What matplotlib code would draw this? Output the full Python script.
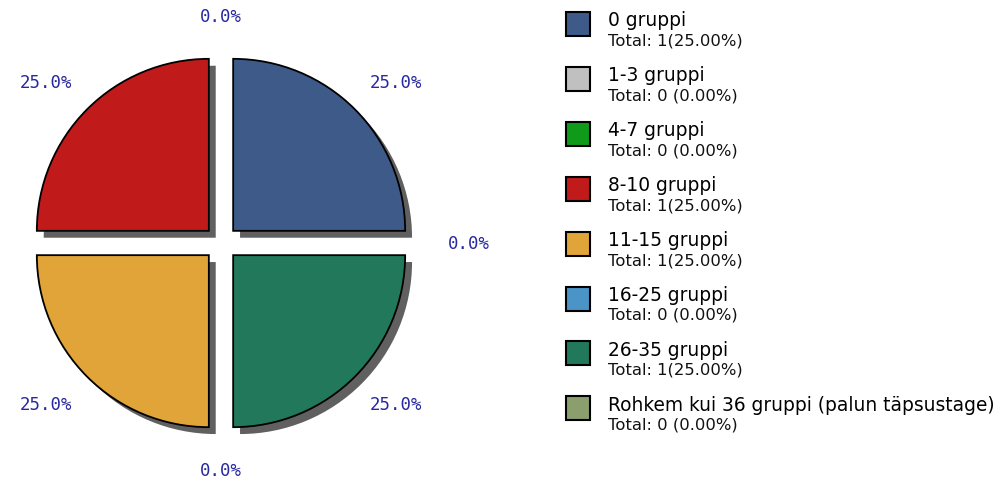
import numpy as np
import matplotlib
matplotlib.use('Agg')
import matplotlib.pyplot as plt
from matplotlib.patches import Rectangle

# categories and counts
categories = ['0 gruppi', '1-3 gruppi', '4-7 gruppi', '8-10 gruppi', '11-15 gruppi',
              '16-25 gruppi', '26-35 gruppi', 'Rohkem kui 36 gruppi (palun täpsustage)']
counts = [1, 0, 0, 1, 1, 0, 1, 0]
colors = ['#3d5a89', '#c0c0c0', '#109a1a', '#c01a1a', '#e0a438', '#4a94c8', '#22785a', '#8a9e6e']

W, H = 1000, 481
fig = plt.figure(figsize=(W / 100, H / 100), dpi=100)

# pie axes, 1 data unit = R pixels
R = 172.0
cx, cy = 221.0, 237.0
ax = fig.add_axes([0, 0, 0.5, 1])
explode = [0.1] * len(counts)
off = 0.04

# shadow
sh, _ = ax.pie(counts, explode=explode, colors=['#606060'] * len(counts), startangle=0,
               center=(off, -off), wedgeprops=dict(linewidth=0))
wedges, _ = ax.pie(counts, explode=explode, colors=colors, startangle=0,
                   wedgeprops=dict(edgecolor='black', linewidth=1.3))
for w, s, c in zip(wedges, sh, counts):
    if c == 0:
        w.set_visible(False)
        s.set_visible(False)
ax.set_xlim(-cx / R, (500 - cx) / R)
ax.set_ylim(-cy / R, (H - cy) / R)
ax.set_aspect('equal')
ax.axis('off')

# percentage labels (one per position)
total = sum(counts)
pct = [100.0 * c / total for c in counts]
mid = (np.cumsum(counts) - np.array(counts) / 2.0) / total * 2 * np.pi
seen = set()
for a, p in zip(mid, pct):
    key = round(a, 4)
    if key in seen:
        continue
    seen.add(key)
    ax.text(1.44 * np.cos(a), 1.32 * np.sin(a), '%.1f%%' % p, ha='center', va='center',
            family='DejaVu Sans Mono', fontsize=12.5, color='#2828a0')

# legend
y0 = 13
step = 54.9
for i, (cat, c, col) in enumerate(zip(categories, counts, colors)):
    top = y0 + i * step
    fig.patches.append(Rectangle((566 / W, 1 - (top + 24) / H), 24 / W, 24 / H,
                                 facecolor=col, edgecolor='black', linewidth=1.5,
                                 transform=fig.transFigure, figure=fig))
    fig.text(608 / W, 1 - (top + 8) / H, cat, ha='left', va='center',
             fontsize=13.4, color='black', family='DejaVu Sans')
    sep = '' if c else ' '
    fig.text(608 / W, 1 - (top + 28) / H, 'Total: %d%s(%.2f%%)' % (c, sep, pct[i]),
             ha='left', va='center', fontsize=11.8, color='#111111', family='DejaVu Sans')

fig.savefig('out.png', dpi=100)
